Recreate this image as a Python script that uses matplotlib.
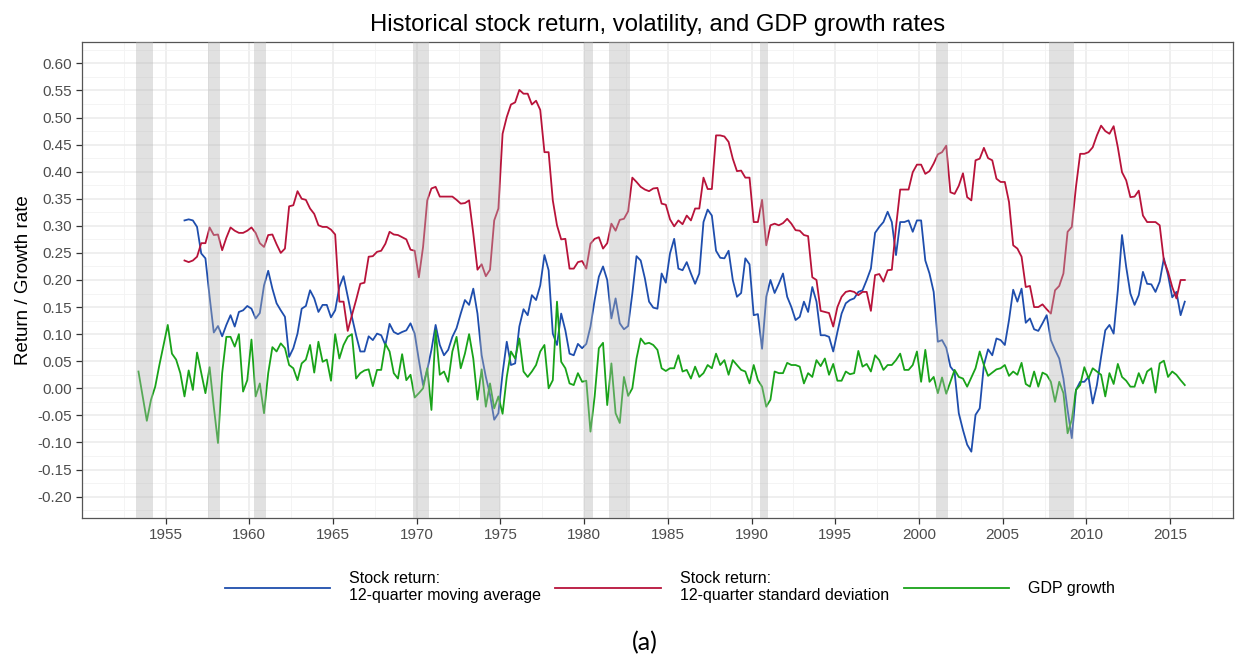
#
# Historical stock return, volatility and GDP growth (quarterly)
#

import numpy as np
import matplotlib
matplotlib.use('Agg')
from matplotlib import pyplot as plt
from matplotlib.ticker import MultipleLocator, FormatStrFormatter

# quarterly series, first point is 1953 Q2 (mid-quarter positions)
gdp_start = 1953.375
gdp_growth = [
    0.031, -0.015, -0.060, -0.021, 0.003, 0.043, 0.080, 0.117,
    0.064, 0.053, 0.028, -0.015, 0.033, -0.003, 0.066, 0.028,
    -0.009, 0.039, -0.034, -0.101, 0.028, 0.095, 0.095, 0.077,
    0.100, -0.006, 0.015, 0.090, -0.015, 0.009, -0.046, 0.028,
    0.076, 0.068, 0.083, 0.074, 0.043, 0.037, 0.015, 0.046,
    0.053, 0.080, 0.029, 0.086, 0.049, 0.053, 0.014, 0.100,
    0.055, 0.080, 0.095, 0.100, 0.018, 0.028, 0.033, 0.035,
    0.004, 0.034, 0.034, 0.082, 0.068, 0.028, 0.018, 0.063,
    0.015, 0.025, -0.017, -0.009, 0.000, 0.037, -0.040, 0.107,
    0.025, 0.031, 0.012, 0.068, 0.095, 0.037, 0.064, 0.100,
    0.055, -0.021, 0.035, -0.034, 0.009, -0.037, -0.015, -0.047,
    0.021, 0.068, 0.055, 0.092, 0.031, 0.021, 0.031, 0.043,
    0.068, 0.080, 0.000, 0.015, 0.160, 0.049, 0.037, 0.009,
    0.006, 0.028, 0.012, 0.014, -0.080, -0.015, 0.074, 0.084,
    -0.031, 0.046, -0.046, -0.064, 0.021, -0.014, 0.000, 0.055,
    0.092, 0.082, 0.084, 0.080, 0.071, 0.037, 0.032, 0.037,
    0.037, 0.061, 0.031, 0.034, 0.018, 0.040, 0.021, 0.028,
    0.043, 0.037, 0.064, 0.043, 0.052, 0.025, 0.052, 0.043,
    0.034, 0.031, 0.009, 0.043, 0.015, 0.003, -0.034, -0.021,
    0.031, 0.028, 0.028, 0.047, 0.043, 0.043, 0.040, 0.009,
    0.028, 0.021, 0.052, 0.041, 0.055, 0.025, 0.045, 0.014,
    0.014, 0.031, 0.026, 0.028, 0.069, 0.040, 0.045, 0.031,
    0.061, 0.052, 0.034, 0.043, 0.043, 0.052, 0.064, 0.034,
    0.034, 0.043, 0.068, 0.012, 0.071, 0.012, 0.021, -0.009,
    0.020, -0.010, 0.012, 0.034, 0.021, 0.018, 0.003, 0.020,
    0.037, 0.068, 0.043, 0.023, 0.029, 0.035, 0.037, 0.043,
    0.023, 0.031, 0.025, 0.047, 0.008, 0.003, 0.031, 0.003,
    0.029, 0.025, 0.012, -0.025, 0.012, -0.009, -0.083, -0.058,
    -0.003, 0.006, 0.039, 0.018, 0.037, 0.031, 0.025, -0.015,
    0.028, 0.008, 0.045, 0.021, 0.014, 0.003, 0.003, 0.028,
    0.009, 0.031, 0.037, -0.008, 0.046, 0.051, 0.021, 0.031,
    0.025, 0.015, 0.006,
]

# stock series start in 1956 Q1
stock_start = 1956.125
stock_ma = [
    0.310, 0.312, 0.310, 0.298, 0.249, 0.240, 0.169, 0.103,
    0.115, 0.096, 0.117, 0.135, 0.114, 0.141, 0.144, 0.152,
    0.147, 0.129, 0.139, 0.190, 0.217, 0.184, 0.157, 0.144,
    0.132, 0.058, 0.074, 0.101, 0.147, 0.152, 0.181, 0.166,
    0.141, 0.154, 0.154, 0.131, 0.144, 0.187, 0.207, 0.169,
    0.132, 0.098, 0.068, 0.068, 0.096, 0.089, 0.101, 0.098,
    0.080, 0.119, 0.104, 0.100, 0.104, 0.107, 0.120, 0.101,
    0.052, 0.006, 0.034, 0.071, 0.117, 0.080, 0.061, 0.071,
    0.095, 0.111, 0.138, 0.163, 0.154, 0.184, 0.138, 0.061,
    0.021, -0.012, -0.058, -0.046, 0.028, 0.086, 0.043, 0.046,
    0.114, 0.146, 0.135, 0.172, 0.163, 0.190, 0.246, 0.218,
    0.101, 0.080, 0.138, 0.107, 0.064, 0.061, 0.082, 0.074,
    0.082, 0.114, 0.163, 0.206, 0.225, 0.200, 0.129, 0.166,
    0.120, 0.109, 0.115, 0.175, 0.244, 0.236, 0.203, 0.160,
    0.149, 0.147, 0.212, 0.195, 0.249, 0.276, 0.221, 0.218,
    0.233, 0.212, 0.193, 0.212, 0.307, 0.330, 0.319, 0.254,
    0.241, 0.240, 0.254, 0.200, 0.169, 0.176, 0.240, 0.229,
    0.135, 0.137, 0.073, 0.169, 0.200, 0.176, 0.193, 0.212,
    0.169, 0.150, 0.126, 0.132, 0.160, 0.141, 0.187, 0.160,
    0.098, 0.098, 0.095, 0.068, 0.104, 0.138, 0.157, 0.163,
    0.166, 0.178, 0.181, 0.200, 0.221, 0.287, 0.298, 0.307,
    0.326, 0.307, 0.246, 0.307, 0.307, 0.310, 0.289, 0.310,
    0.310, 0.236, 0.212, 0.178, 0.086, 0.089, 0.075, 0.040,
    0.030, -0.046, -0.077, -0.104, -0.117, -0.049, -0.037, 0.043,
    0.072, 0.061, 0.092, 0.089, 0.080, 0.126, 0.182, 0.160,
    0.184, 0.121, 0.129, 0.109, 0.106, 0.120, 0.135, 0.089,
    0.071, 0.055, 0.018, -0.040, -0.092, -0.003, 0.012, 0.012,
    0.021, -0.028, 0.006, 0.058, 0.107, 0.117, 0.101, 0.181,
    0.283, 0.224, 0.175, 0.154, 0.172, 0.215, 0.193, 0.192,
    0.178, 0.197, 0.240, 0.209, 0.168, 0.178, 0.135, 0.160,
]

stock_sd = [
    0.236, 0.233, 0.236, 0.243, 0.268, 0.268, 0.297, 0.283,
    0.284, 0.255, 0.278, 0.297, 0.291, 0.287, 0.287, 0.291,
    0.297, 0.287, 0.268, 0.261, 0.283, 0.284, 0.266, 0.250,
    0.258, 0.336, 0.338, 0.364, 0.350, 0.348, 0.332, 0.322,
    0.301, 0.298, 0.298, 0.293, 0.284, 0.160, 0.160, 0.106,
    0.135, 0.163, 0.193, 0.195, 0.243, 0.244, 0.252, 0.254,
    0.267, 0.289, 0.284, 0.283, 0.279, 0.275, 0.256, 0.254,
    0.205, 0.261, 0.347, 0.369, 0.372, 0.354, 0.354, 0.354,
    0.354, 0.348, 0.341, 0.342, 0.347, 0.286, 0.219, 0.229,
    0.207, 0.219, 0.310, 0.332, 0.470, 0.501, 0.524, 0.528,
    0.551, 0.544, 0.544, 0.524, 0.531, 0.514, 0.436, 0.436,
    0.347, 0.301, 0.275, 0.276, 0.221, 0.221, 0.233, 0.235,
    0.221, 0.267, 0.276, 0.279, 0.258, 0.268, 0.304, 0.291,
    0.311, 0.313, 0.327, 0.389, 0.381, 0.372, 0.367, 0.364,
    0.369, 0.370, 0.341, 0.339, 0.312, 0.299, 0.310, 0.303,
    0.319, 0.310, 0.332, 0.332, 0.389, 0.368, 0.368, 0.467,
    0.467, 0.465, 0.455, 0.424, 0.401, 0.402, 0.389, 0.389,
    0.307, 0.307, 0.348, 0.264, 0.301, 0.304, 0.301, 0.305,
    0.313, 0.304, 0.292, 0.291, 0.283, 0.281, 0.205, 0.200,
    0.143, 0.141, 0.139, 0.114, 0.150, 0.169, 0.178, 0.180,
    0.178, 0.172, 0.178, 0.178, 0.143, 0.209, 0.211, 0.197,
    0.218, 0.219, 0.298, 0.367, 0.367, 0.367, 0.399, 0.413,
    0.413, 0.396, 0.401, 0.415, 0.432, 0.436, 0.448, 0.362,
    0.359, 0.374, 0.397, 0.353, 0.347, 0.421, 0.424, 0.444,
    0.425, 0.421, 0.387, 0.381, 0.381, 0.344, 0.264, 0.258,
    0.243, 0.187, 0.189, 0.150, 0.150, 0.155, 0.146, 0.138,
    0.181, 0.189, 0.212, 0.289, 0.298, 0.372, 0.433, 0.433,
    0.436, 0.445, 0.467, 0.485, 0.475, 0.470, 0.484, 0.445,
    0.399, 0.384, 0.353, 0.354, 0.365, 0.319, 0.307, 0.307,
    0.307, 0.301, 0.236, 0.215, 0.187, 0.166, 0.200, 0.200,
]

# NBER recessions (peak quarter start, trough quarter start)
rec_start = [1953.25, 1957.5, 1960.25, 1969.75, 1973.75, 1980.0, 1981.5, 1990.5, 2001.0, 2007.75]
rec_end = [1954.25, 1958.25, 1961.0, 1970.75, 1975.0, 1980.5, 1982.75, 1991.0, 2001.75, 2009.25]

labels = ['Stock return:\n12-quarter moving average',
          'Stock return:\n12-quarter standard deviation',
          'GDP growth']
colours = ['#1f4ead', '#b8133a', '#19a319']

plt.rcParams['font.family'] = ['Liberation Sans', 'DejaVu Sans']

gdp_x = gdp_start + 0.25 * np.arange(len(gdp_growth))
stk_x = stock_start + 0.25 * np.arange(len(stock_ma))

fig = plt.figure(figsize=(12.38, 6.62), dpi=100)
ax = fig.add_axes([0.0662, 0.2171, 0.9297, 0.7199])

l1, = ax.plot(stk_x, stock_ma, color=colours[0], lw=1.3, zorder=2)
l2, = ax.plot(stk_x, stock_sd, color=colours[1], lw=1.3, zorder=2)
l3, = ax.plot(gdp_x, gdp_growth, color=colours[2], lw=1.3, zorder=2)

# recession shading drawn on top so lines look faded through it
for s, e in zip(rec_start, rec_end):
    ax.axvspan(s, e, color='#b4b4b4', alpha=0.4, lw=0, zorder=3)

ax.set_xlim(1950.0, 2018.75)
ax.set_ylim(-0.24, 0.64)
ax.xaxis.set_major_locator(MultipleLocator(5))
ax.xaxis.set_minor_locator(MultipleLocator(2.5))
ax.yaxis.set_major_locator(MultipleLocator(0.05))
ax.yaxis.set_minor_locator(MultipleLocator(0.025))
ax.yaxis.set_major_formatter(FormatStrFormatter('%.2f'))
ax.set_xticks(np.arange(1955, 2016, 5))

ax.grid(which='major', color='#ebebeb', lw=1.1, zorder=0)
ax.grid(which='minor', color='#f3f3f3', lw=0.6, zorder=0)
ax.set_axisbelow(True)
ax.tick_params(which='major', length=4, width=0.9, color='#333333',
               labelsize=11, labelcolor='#4d4d4d', pad=3)
ax.tick_params(which='minor', length=0)
for sp in ax.spines.values():
    sp.set_color('#555555')
    sp.set_linewidth(0.9)

ax.set_ylabel('Return / Growth rate', fontsize=13.5, color='black', labelpad=4)
ax.set_title('Historical stock return, volatility, and GDP growth rates', fontsize=17.2, pad=8)

fig.legend([l1, l2, l3], labels, ncol=3, loc='center', bbox_to_anchor=(0.541, 0.113),
           frameon=False, fontsize=11.5, handlelength=6.6, handletextpad=1.2,
           columnspacing=0.9)

fig.text(0.521, 0.029, '(a)', fontsize=18, family=['Lato', 'DejaVu Sans'],
         ha='center', va='center')

plt.savefig('out.png', dpi=100)
